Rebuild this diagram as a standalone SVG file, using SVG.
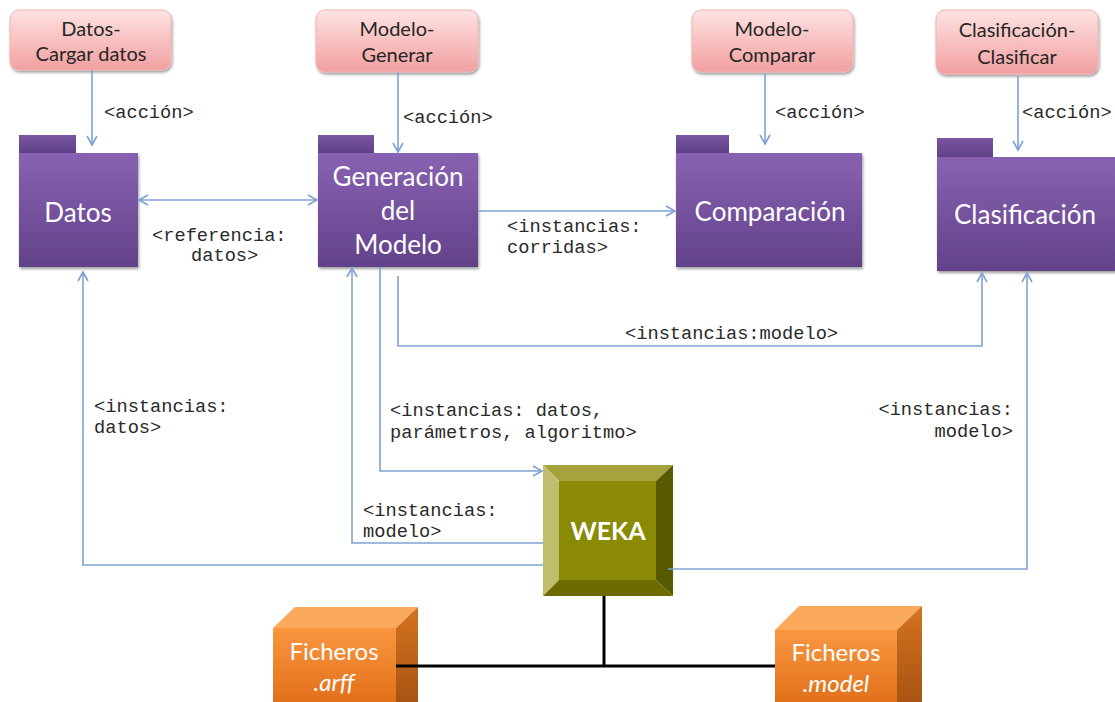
<svg xmlns="http://www.w3.org/2000/svg" width="1115" height="702" viewBox="0 0 1115 702">
<style>
.lbl{font-family:"Liberation Mono","Courier New",monospace;font-size:18.7px;fill:#2a2a2a}
.act{font-family:Lato,"Liberation Sans",sans-serif;font-size:20px;fill:#262626;text-anchor:middle}
.pkgt{font-family:Lato,"Liberation Sans",sans-serif;font-size:26px;fill:#ffffff;text-anchor:middle}
.fic{font-family:Lato,"Liberation Sans",sans-serif;font-size:24px;fill:#ffffff;text-anchor:middle}
.conn{fill:none;stroke:#7fa2d3;stroke-width:1.6}
.blk{fill:none;stroke:#000;stroke-width:3}
.pink{fill:url(#gPink);stroke:#f2b3b3;stroke-width:1;filter:url(#sh)}
.tab{fill:url(#gTab)}
.body{fill:url(#gBody);filter:url(#sh)}
</style>
<defs>
<linearGradient id="gPink" x1="0" y1="0" x2="0" y2="1">
<stop offset="0" stop-color="#fde3e3"/><stop offset="0.45" stop-color="#f9c4c4"/><stop offset="1" stop-color="#f2a0a0"/>
</linearGradient>
<linearGradient id="gBody" x1="0" y1="0" x2="0" y2="1">
<stop offset="0" stop-color="#8862b2"/><stop offset="1" stop-color="#62428a"/>
</linearGradient>
<linearGradient id="gTab" x1="0" y1="0" x2="0" y2="1">
<stop offset="0" stop-color="#7a56a3"/><stop offset="1" stop-color="#5f4187"/>
</linearGradient>
<linearGradient id="gOrF" x1="0" y1="0" x2="0" y2="1">
<stop offset="0" stop-color="#fa9640"/><stop offset="1" stop-color="#e06d17"/>
</linearGradient>
<linearGradient id="gOrR" x1="0" y1="0" x2="0" y2="1">
<stop offset="0" stop-color="#d3731f"/><stop offset="1" stop-color="#a95413"/>
</linearGradient>
<filter id="sh" x="-10%" y="-10%" width="125%" height="125%">
<feGaussianBlur in="SourceAlpha" stdDeviation="1.6"/>
<feOffset dx="1" dy="2" result="b"/>
<feComponentTransfer><feFuncA type="linear" slope="0.4"/></feComponentTransfer>
<feMerge><feMergeNode/><feMergeNode in="SourceGraphic"/></feMerge>
</filter>
<marker id="arr" markerUnits="userSpaceOnUse" markerWidth="14" markerHeight="14" refX="10" refY="6" orient="auto-start-reverse">
<path d="M1,1 L10,6 L1,11" fill="none" stroke="#7fa2d3" stroke-width="1.6"/>
</marker>
</defs>

<g id="act-datos">
<rect class="pink" x="10" y="10" width="161" height="60" rx="9"/>
<text class="act" x="91" y="36">Datos-</text>
<text class="act" x="91" y="61">Cargar datos</text>
</g>
<g id="act-generar">
<rect class="pink" x="316" y="10" width="162" height="62" rx="9"/>
<text class="act" x="397" y="36">Modelo-</text>
<text class="act" x="397" y="62">Generar</text>
</g>
<g id="act-comparar">
<rect class="pink" x="692" y="10" width="161" height="62" rx="9"/>
<text class="act" x="772" y="36">Modelo-</text>
<text class="act" x="772" y="62">Comparar</text>
</g>
<g id="act-clasificar">
<rect class="pink" x="936" y="10" width="162" height="64" rx="9"/>
<text class="act" x="1017" y="37">Clasificación-</text>
<text class="act" x="1017" y="64">Clasificar</text>
</g>

<g id="pkg-datos">
<rect class="tab" x="19" y="135" width="57" height="18"/>
<rect class="body" x="19" y="153" width="119" height="114"/>
<text class="pkgt" x="78" y="222">Datos</text>
</g>
<g id="pkg-generacion">
<rect class="tab" x="318" y="135" width="56" height="18"/>
<rect class="body" x="318" y="153" width="160" height="114"/>
<text class="pkgt" x="398" y="186">Generación</text>
<text class="pkgt" x="398" y="220">del</text>
<text class="pkgt" x="398" y="254">Modelo</text>
</g>
<g id="pkg-comparacion">
<rect class="tab" x="676" y="135" width="53" height="18"/>
<rect class="body" x="676" y="153" width="186" height="114"/>
<text class="pkgt" x="770" y="221">Comparación</text>
</g>
<g id="pkg-clasificacion">
<rect class="tab" x="937" y="138" width="56" height="19"/>
<rect class="body" x="937" y="157" width="180" height="114"/>
<text class="pkgt" x="1025" y="224">Clasificación</text>
</g>

<g id="weka">
<polygon points="543,465 673,465 656,481 559,481" fill="#a7a33c"/>
<polygon points="543,465 559,481 559,580 543,596" fill="#c1bd6e"/>
<polygon points="673,465 673,596 656,580 656,481" fill="#585a00"/>
<polygon points="543,596 673,596 656,580 559,580" fill="#6d6b00"/>
<rect x="559" y="481" width="97" height="99" fill="#8a8a05"/>
<text x="608" y="540" text-anchor="middle" font-family="Lato,'Liberation Sans',sans-serif" font-weight="bold" font-size="25" fill="#ffffff">WEKA</text>
</g>

<g id="ficheros-arff">
<polygon points="273,628 295,607 418,607 396,628" fill="#fba95c"/>
<polygon points="396,628 418,607 418,702 396,702" fill="url(#gOrR)"/>
<rect x="273" y="628" width="123" height="80" fill="url(#gOrF)"/>
<text class="fic" x="334" y="660">Ficheros</text>
<text class="fic" x="334" y="691" font-style="italic">.arff</text>
</g>
<g id="ficheros-model">
<polygon points="775,630 799,606 922,606 897,630" fill="#fba95c"/>
<polygon points="897,630 922,606 922,702 897,702" fill="url(#gOrR)"/>
<rect x="775" y="630" width="122" height="80" fill="url(#gOrF)"/>
<text class="fic" x="836" y="661">Ficheros</text>
<text class="fic" x="836" y="692" font-style="italic">.model</text>
</g>

<g id="connectors">
<line class="conn" x1="92" y1="70" x2="92" y2="145" marker-end="url(#arr)"/>
<line class="conn" x1="398" y1="72" x2="398" y2="152" marker-end="url(#arr)"/>
<line class="conn" x1="765" y1="74" x2="765" y2="144" marker-end="url(#arr)"/>
<line class="conn" x1="1018" y1="76" x2="1018" y2="150" marker-end="url(#arr)"/>
<line class="conn" x1="139" y1="200" x2="317" y2="200" marker-start="url(#arr)" marker-end="url(#arr)"/>
<line class="conn" x1="478" y1="211" x2="675" y2="211" marker-end="url(#arr)"/>
<polyline class="conn" points="398,276 398,346 982,346 982,273" marker-end="url(#arr)"/>
<polyline class="conn" points="380,267 380,471 542,471" marker-end="url(#arr)"/>
<polyline class="conn" points="543,543 352,543 352,268" marker-end="url(#arr)"/>
<polyline class="conn" points="543,565 83,565 83,272" marker-end="url(#arr)"/>
<polyline class="conn" points="668,569 1027,569 1027,273" marker-end="url(#arr)"/>
<line class="blk" x1="604" y1="596" x2="604" y2="666"/>
<line class="blk" x1="396" y1="666" x2="775" y2="666"/>
<text class="lbl" x="104" y="118">&lt;acción&gt;</text>
<text class="lbl" x="403" y="123">&lt;acción&gt;</text>
<text class="lbl" x="775" y="118">&lt;acción&gt;</text>
<text class="lbl" x="1022" y="118">&lt;acción&gt;</text>
<text class="lbl" x="152" y="241">&lt;referencia:</text>
<text class="lbl" x="191" y="261">datos&gt;</text>
<text class="lbl" x="507" y="232">&lt;instancias:</text>
<text class="lbl" x="507" y="253">corridas&gt;</text>
<text class="lbl" x="625" y="339">&lt;instancias:modelo&gt;</text>
<text class="lbl" x="94" y="412">&lt;instancias:</text>
<text class="lbl" x="94" y="433">datos&gt;</text>
<text class="lbl" x="390" y="416">&lt;instancias: datos,</text>
<text class="lbl" x="390" y="438">parámetros, algoritmo&gt;</text>
<text class="lbl" x="363" y="516">&lt;instancias:</text>
<text class="lbl" x="363" y="537">modelo&gt;</text>
<text class="lbl" x="1013" y="415" text-anchor="end">&lt;instancias:</text>
<text class="lbl" x="1013" y="437" text-anchor="end">modelo&gt;</text>
</g>
</svg>
